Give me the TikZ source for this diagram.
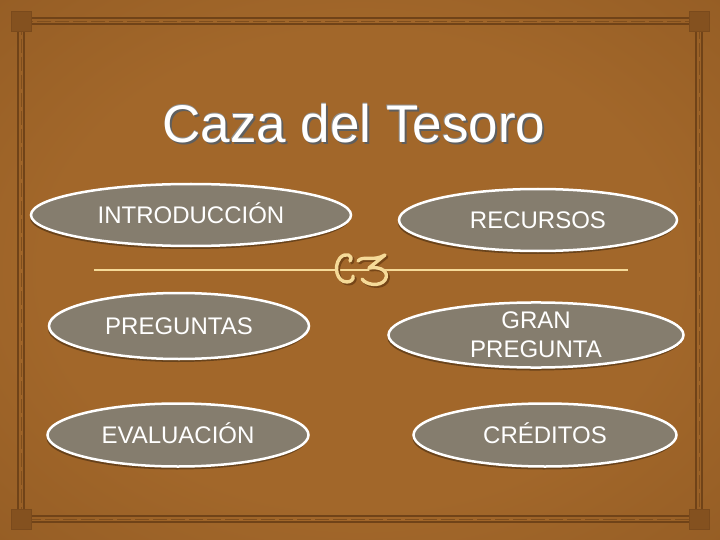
\documentclass[tikz,border=0pt]{standalone}
\usepackage{fontspec}
\setmainfont{Liberation Sans}
\usetikzlibrary{shapes.geometric,shadows}

\definecolor{leather}{RGB}{162,103,42}
\definecolor{leatherdark}{RGB}{118,70,24}
\definecolor{framebrown}{RGB}{112,67,24}
\definecolor{pebble}{RGB}{133,125,110}
\definecolor{cream}{RGB}{245,218,152}
\definecolor{titleedge}{RGB}{95,95,95}

\pgfdeclareradialshading{leathershade}{\pgfpoint{0bp}{0bp}}{color(0bp)=(leather); color(22bp)=(leather); color(72bp)=(leatherdark)}

\tikzset{
	option/.style={ellipse,draw=white,line width=2.5pt,fill=pebble,text=white,
		font=\fontsize{24}{29}\selectfont,inner sep=0pt,align=center,
		drop shadow={shadow xshift=-1pt,shadow yshift=-3pt,opacity=.35,fill=black}},
	oneline/.style={text height=17pt,text depth=0pt},
	titletext/.style={anchor=base,font=\fontsize{53}{60}\selectfont},
	ornament/.style={line width=3.4pt,line cap=round,line join=round}
}

\begin{document}
\begin{tikzpicture}[x=1pt,y=-1pt]
	\useasboundingbox (0,0) rectangle (720,540);
	\shade[shading=leathershade] (0,0) rectangle (720,540);
	% frame
	\draw[framebrown,line width=1.1pt] (18,18) rectangle (702,522);
	\draw[framebrown,line width=1.1pt] (24,24) rectangle (696,516);
	\draw[framebrown!70!leather,line width=.7pt,dash pattern=on 14pt off 4pt] (21,21) rectangle (699,519);
	\foreach \cx/\cy in {21/21,699/21,21/519,699/519}
		\draw[framebrown!80!leather,fill=framebrown!60!leather,line width=.7pt] (\cx-10,\cy-10) rectangle (\cx+10,\cy+10);

	% title
	\node[titletext,text=titleedge] (titleshade) at (356,145) {Caza del Tesoro};
	\node[titletext,text=titleedge!70] (titleedge) at (353.5,142) {Caza del Tesoro};
	\node[titletext,text=white] (title) at (354,143) {Caza del Tesoro};

	% divider
	\coordinate (ruleleft) at (94,270);
	\coordinate (ruleright) at (628,270);
	\draw[cream,line width=2pt] (ruleleft) -- (ruleright);
	\begin{scope}[shift={(1.8,1.8)},ornament,draw=leatherdark]
		\draw (350,261) .. controls (354,255) and (345,252) .. (340,258) .. controls (333,267) and (337,282) .. (347,282) .. controls (351,282) and (354,279) .. (353,276);
		\draw (358,261) .. controls (363,255) and (373,262) .. (385,255) -- (369,268) .. controls (381,266) and (390,272) .. (385,280) .. controls (380,287) and (366,285) .. (362,279);
	\end{scope}
	\begin{scope}[ornament,draw=cream]
		\draw (350,261) .. controls (354,255) and (345,252) .. (340,258) .. controls (333,267) and (337,282) .. (347,282) .. controls (351,282) and (354,279) .. (353,276);
		\draw (358,261) .. controls (363,255) and (373,262) .. (385,255) -- (369,268) .. controls (381,266) and (390,272) .. (385,280) .. controls (380,287) and (366,285) .. (362,279);
	\end{scope}

	% options
	\node[option,oneline,minimum width=320pt,minimum height=62pt] (intro) at (191,215) {INTRODUCCIÓN};
	\node[option,oneline,minimum width=278pt,minimum height=62pt] (recursos) at (538,220) {RECURSOS};
	\node[option,oneline,minimum width=260pt,minimum height=66pt] (preguntas) at (179,326) {PREGUNTAS};
	\node[option,minimum width=295pt,minimum height=64pt] (granpregunta) at (536,335) {GRAN\\PREGUNTA};
	\node[option,oneline,minimum width=261pt,minimum height=63pt] (evaluacion) at (178,435) {EVALUACIÓN};
	\node[option,oneline,minimum width=263pt,minimum height=63pt] (creditos) at (545,435) {CRÉDITOS};
\end{tikzpicture}
\end{document}
